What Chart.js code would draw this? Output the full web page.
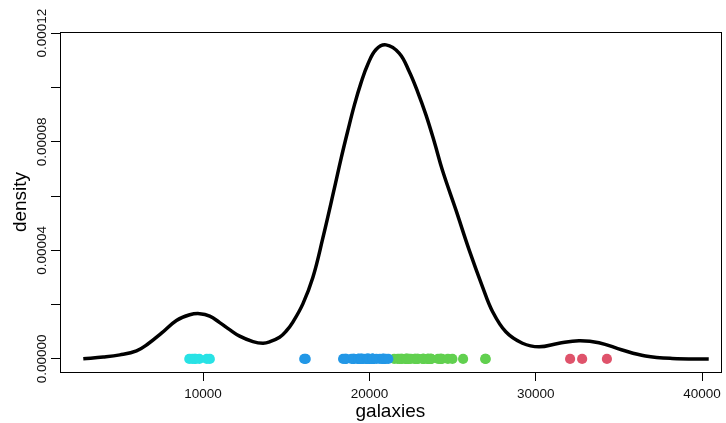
<!DOCTYPE html>
<html>
<head>
<meta charset="utf-8">
<script src="https://cdn.jsdelivr.net/npm/chart.js@4/dist/chart.umd.min.js"></script>
<style>
  body { margin: 0; background: #fff; }
  canvas { display: block; }
</style>
</head>
<body>
<canvas id="myChart" width="726" height="423"></canvas>
<script>
// velocities of the galaxies, split by cluster
const cluster5 = [9172, 9350, 9483, 9558, 9775, 10227, 10406];
const cluster4 = [16084, 16170, 18419, 18552, 18600, 18927, 19052, 19070, 19330, 19343,
  19349, 19440, 19473, 19529, 19541, 19547, 19663, 19846, 19856, 19863, 19914, 19918,
  19973, 19989, 20166, 20175, 20179, 20196, 20215, 20221, 20415, 20629, 20795, 20821,
  20846, 20875, 20986, 21137];
const cluster3 = [21492, 21701, 21814, 21921, 21960, 22185, 22209, 22242, 22249, 22314,
  22374, 22495, 22746, 22747, 22888, 22914, 23206, 23241, 23263, 23484, 23538, 23542,
  23666, 23706, 23711, 24129, 24285, 24289, 24366, 24717, 24990, 25633, 26960, 26995];
const cluster2 = [32065, 32789, 34279];

// density curve
const densX = [2800, 4000, 5000, 6000, 6700, 7500, 8400, 9200, 9800, 10400, 11000, 11600,
  12200, 13000, 13600, 14000, 14600, 15000, 15400, 16000, 16600, 17200, 17900, 18300,
  18700, 19100, 19500, 19900, 20400, 21000, 21800, 22400, 22900, 23400, 23900, 24400,
  25200, 26000, 26800, 27400, 28200, 29200, 30200, 31400, 32600, 33800, 35200, 36600,
  38200, 40400];
const densY = [0.0000001, 0.0000007, 0.0000015, 0.0000030, 0.0000056, 0.0000095, 0.0000142,
  0.0000163, 0.0000167, 0.0000158, 0.0000134, 0.0000108, 0.0000084, 0.0000064, 0.0000058,
  0.0000063, 0.0000080, 0.0000103, 0.0000136, 0.0000203, 0.0000300, 0.0000445, 0.0000630,
  0.0000739, 0.0000840, 0.0000936, 0.0001018, 0.0001085, 0.0001140, 0.0001157, 0.0001126,
  0.0001058, 0.0000984, 0.0000899, 0.0000800, 0.0000693, 0.0000549, 0.0000401, 0.0000266,
  0.0000175, 0.0000100, 0.0000058, 0.0000045, 0.0000058, 0.0000067, 0.0000060, 0.0000033,
  0.0000011, 0.0000002, 0.0000000];

const xTicks = [10000, 20000, 30000, 40000];
const yTicks = [0, 0.00002, 0.00004, 0.00006, 0.00008, 0.0001, 0.00012];
const yLabels = [0, 0.00004, 0.00008, 0.00012];

function rug(vals) {
  return vals.map(v => ({ x: v, y: 0 }));
}

function dots(vals, color) {
  return {
    data: rug(vals),
    backgroundColor: color,
    borderWidth: 0,
    pointRadius: 5.1,
    pointHoverRadius: 5.1
  };
}

// box around the plot region + y labels drawn along the axis
const frame = {
  id: 'frame',
  afterDraw(chart) {
    const c = chart.ctx, a = chart.chartArea, ys = chart.scales.y;
    c.save();
    c.strokeStyle = '#000';
    c.lineWidth = 1;
    c.strokeRect(Math.round(a.left) + 0.5, Math.round(a.top) + 0.5,
      Math.round(a.right - a.left), Math.round(a.bottom - a.top));
    c.fillStyle = '#111';
    c.font = '13.5px "Liberation Sans", Arial, sans-serif';
    c.textAlign = 'center';
    c.textBaseline = 'middle';
    yLabels.forEach(v => {
      const py = ys.getPixelForValue(v);
      c.save();
      c.translate(42, py);
      c.rotate(-Math.PI / 2);
      c.fillText(v.toFixed(5), 0, 0);
      c.restore();
    });
    c.restore();
  }
};

const ctx = document.getElementById('myChart');

new Chart(ctx, {
  type: 'scatter',
  data: {
    datasets: [
      {
        data: densX.map((x, i) => ({ x: x, y: densY[i] })),
        showLine: true,
        borderColor: '#000',
        borderWidth: 3.5,
        pointRadius: 0,
        tension: 0.4
      },
      dots(cluster5, '#28E2E5'),
      dots(cluster4, '#2297E6'),
      dots(cluster3, '#61D04F'),
      dots(cluster2, '#DF536B')
    ]
  },
  options: {
    responsive: false,
    animation: false,
    layout: { padding: { top: 32, right: 4, left: 0, bottom: 0 } },
    plugins: {
      legend: { display: false },
      tooltip: { enabled: false }
    },
    scales: {
      x: {
        type: 'linear',
        min: 1400,
        max: 41120,
        afterBuildTicks: s => { s.ticks = xTicks.map(v => ({ value: v })); },
        afterFit: s => { s.height = 51; },
        border: { display: false },
        grid: { drawOnChartArea: false, color: '#000', tickLength: 9, tickColor: '#000' },
        ticks: {
          color: '#111',
          padding: 5,
          maxRotation: 0,
          font: { family: '"Liberation Sans", Arial, sans-serif', size: 13.5 },
          callback: v => String(v)
        },
        title: {
          display: true,
          text: 'galaxies',
          color: '#000',
          padding: { top: 0, bottom: 0 },
          font: { family: '"Liberation Sans", Arial, sans-serif', size: 19 }
        }
      },
      y: {
        type: 'linear',
        min: -0.0000048,
        max: 0.00012044,
        afterBuildTicks: s => { s.ticks = yTicks.map(v => ({ value: v })); },
        afterFit: s => { s.width = 60; },
        border: { display: false },
        grid: { drawOnChartArea: false, color: '#000', tickLength: 9, tickColor: '#000' },
        ticks: { display: false },
        title: {
          display: true,
          text: 'density',
          color: '#000',
          padding: { top: 9, bottom: 0 },
          font: { family: '"Liberation Sans", Arial, sans-serif', size: 19 }
        }
      }
    }
  },
  plugins: [frame]
});
</script>
</body>
</html>
